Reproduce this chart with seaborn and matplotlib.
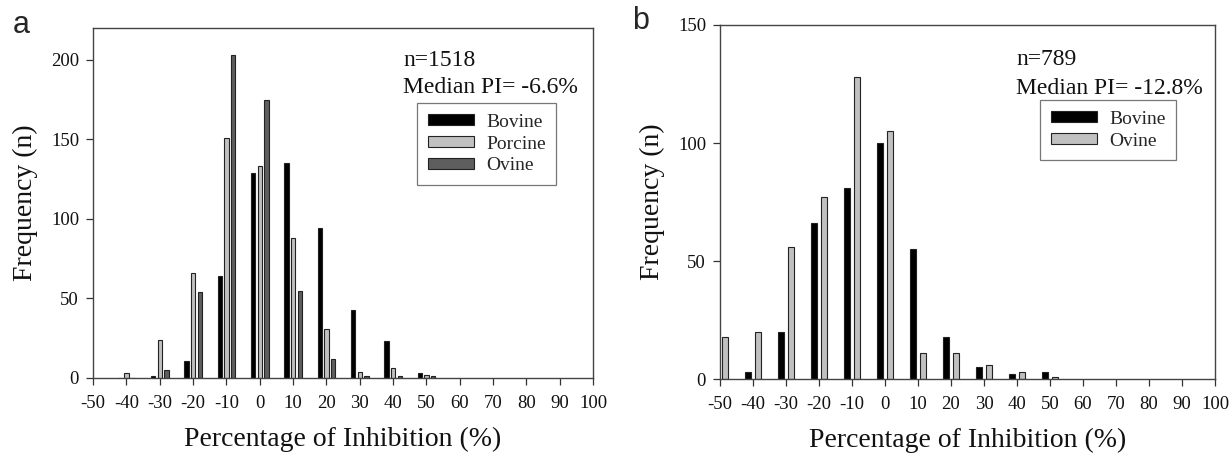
import numpy as np
import pandas as pd
import matplotlib
matplotlib.use("Agg")
import matplotlib.pyplot as plt
from matplotlib.patches import Patch
import seaborn as sns

# ---------------- data ----------------
bins_a = [-40, -30, -20, -10, 0, 10, 20, 30, 40, 50]
bovine_a = [0, 1, 11, 64, 129, 135, 94, 43, 23, 3]
porcine_a = [3, 24, 66, 151, 133, 88, 31, 4, 6, 2]
ovine_a = [0, 5, 54, 203, 175, 55, 12, 1, 1, 1]

bins_b = [-50, -40, -30, -20, -10, 0, 10, 20, 30, 40, 50]
bovine_b = [0, 3, 20, 66, 81, 100, 55, 18, 5, 2, 3]
ovine_b = [18, 20, 56, 77, 128, 105, 11, 11, 6, 3, 1]

xticks = list(range(-50, 101, 10))
xticklabels = [str(v) for v in xticks]
yticks_a = [0, 50, 100, 150, 200]
yticks_b = [0, 50, 100, 150]

title_a = ["n=1518", "Median PI= -6.6%"]
title_b = ["n=789", "Median PI= -12.8%"]

# ---------------- style ----------------
sns.set_theme(style="ticks")
plt.rcParams["font.family"] = ["Liberation Serif", "DejaVu Serif"]
plt.rcParams["axes.unicode_minus"] = False

fig = plt.figure(figsize=(12.3, 4.55), dpi=100)
W, H = 1230, 455


def ax_rect(l, r, t, b):
    return [l / W, 1 - b / H, (r - l) / W, (b - t) / H]


ax_a = fig.add_axes(ax_rect(93, 593, 28, 378))
ax_b = fig.add_axes(ax_rect(720, 1215, 25, 379))

df_a = pd.DataFrame({
    "x": bins_a * 3,
    "n": bovine_a + porcine_a + ovine_a,
    "species": ["Bovine"] * len(bins_a) + ["Porcine"] * len(bins_a) + ["Ovine"] * len(bins_a),
})
df_b = pd.DataFrame({
    "x": bins_b * 2,
    "n": bovine_b + ovine_b,
    "species": ["Bovine"] * len(bins_b) + ["Ovine"] * len(bins_b),
})

pal_a = {"Bovine": "#000000", "Porcine": "#c0c0c0", "Ovine": "#5e5e5e"}
pal_b = {"Bovine": "#000000", "Ovine": "#c0c0c0"}

sns.barplot(data=df_a, x="x", y="n", hue="species", hue_order=["Bovine", "Porcine", "Ovine"],
            palette=pal_a, native_scale=True, width=0.6, gap=0.35, dodge=True,
            edgecolor="#222222", linewidth=0.8, legend=False, ax=ax_a, errorbar=None)
sns.barplot(data=df_b, x="x", y="n", hue="species", hue_order=["Bovine", "Ovine"],
            palette=pal_b, native_scale=True, width=0.58, gap=0.345, dodge=True,
            edgecolor="#222222", linewidth=0.8, legend=False, ax=ax_b, errorbar=None)

for ax, yt, ylim, pal, order, txt, tx, ty, leg_anchor in [
    (ax_a, yticks_a, 220, pal_a, ["Bovine", "Porcine", "Ovine"], title_a,
     (403 - 93) / 500, ((378 - 66) / 350, (378 - 93) / 350), ((417 - 93) / 500, (378 - 103) / 350)),
    (ax_b, yticks_b, 150, pal_b, ["Bovine", "Ovine"], title_b,
     (1016 - 720) / 495, ((379 - 65) / 354, (379 - 94) / 354), ((1040 - 720) / 495, (379 - 100) / 354)),
]:
    ax.set_xlim(-50, 100)
    ax.set_ylim(0, ylim)
    ax.set_xticks(xticks)
    ax.set_xticklabels(xticklabels)
    ax.set_yticks(yt)
    ax.set_yticklabels([str(v) for v in yt])
    ax.tick_params(axis="both", direction="out", length=5, width=0.9, color="#333333",
                   labelsize=13.5, labelcolor="#111111")
    ax.tick_params(axis="x", pad=7)
    ax.tick_params(axis="y", pad=5)
    for s in ax.spines.values():
        s.set_visible(True)
        s.set_color("#444444")
        s.set_linewidth(1.0)
    ax.set_xlabel("Percentage of Inhibition (%)", fontsize=20, labelpad=11, color="#111111")
    ax.set_ylabel("Frequency (n)", fontsize=20, labelpad=9, color="#111111")
    ax.grid(False)
    ax.text(tx, ty[0], txt[0], transform=ax.transAxes, fontsize=17, va="baseline", ha="left",
            color="#111111")
    ax.text(tx, ty[1], txt[1], transform=ax.transAxes, fontsize=17, va="baseline", ha="left",
            color="#111111")
    handles = [Patch(facecolor=pal[k], edgecolor="#222222", linewidth=0.8, label=k) for k in order]
    leg = ax.legend(handles=handles, loc="upper left", bbox_to_anchor=leg_anchor,
                    borderaxespad=0, fontsize=14, frameon=True, fancybox=False,
                    edgecolor="#555555", handlelength=2.4, handleheight=0.5,
                    handletextpad=0.6, labelspacing=0.25, borderpad=0.55)
    leg.get_frame().set_linewidth(0.9)

fig.text(13 / W, 1 - 33 / H, "a", fontsize=22, family=["Liberation Sans", "DejaVu Sans"],
         va="baseline", ha="left")
fig.text(632 / W, 1 - 29 / H, "b", fontsize=22, family=["Liberation Sans", "DejaVu Sans"],
         va="baseline", ha="left")

fig.savefig("out.png", dpi=100)
